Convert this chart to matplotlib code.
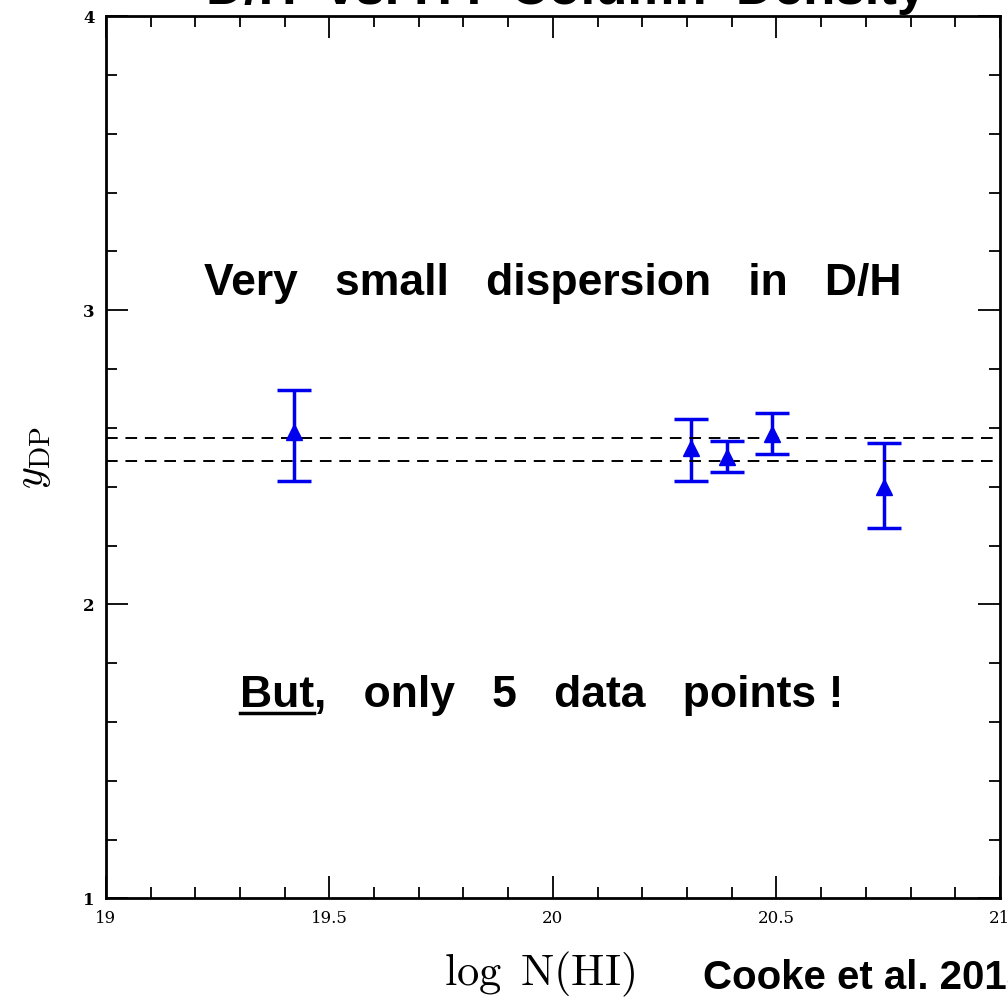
import numpy as np
import matplotlib
matplotlib.use("Agg")
import matplotlib.pyplot as plt
from matplotlib.ticker import MultipleLocator
from matplotlib.lines import Line2D

plt.rcParams['mathtext.fontset'] = 'cm'

# D/H measurements (log N(HI), y_DP, asymmetric errors)
log_nhi = [19.42, 20.31, 20.39, 20.49, 20.74]
y_dp = [2.585, 2.53, 2.50, 2.58, 2.40]
err_lo = [0.165, 0.11, 0.05, 0.07, 0.14]
err_hi = [0.145, 0.10, 0.055, 0.07, 0.15]

# weighted mean band
band = [2.487, 2.567]

xticks = [19, 19.5, 20, 20.5, 21]
xtick_labels = ['19', '19.5', '20', '20.5', '21']
yticks = [1, 2, 3, 4]
ytick_labels = ['1', '2', '3', '4']

fig = plt.figure(figsize=(10.08, 10.05), dpi=100)
ax = fig.add_axes([0.105, 0.106, 0.887, 0.878])

ax.errorbar(log_nhi, y_dp, yerr=[err_lo, err_hi], fmt='^', color='#0000ee',
            ms=12, elinewidth=2.5, capsize=12, capthick=2.5)

for yb in band:
    ax.axhline(yb, color='black', ls=(0, (6, 4)), lw=1.4)

ax.set_xlim(19, 21)
ax.set_ylim(1, 4)
ax.set_xticks(xticks)
ax.set_xticklabels(xtick_labels, family='DejaVu Serif')
ax.set_yticks(yticks)
ax.set_yticklabels(ytick_labels, family='DejaVu Serif', fontweight='bold')
ax.xaxis.set_minor_locator(MultipleLocator(0.1))
ax.yaxis.set_minor_locator(MultipleLocator(0.2))
ax.tick_params(which='both', direction='in', top=True, right=True, width=1.3)
ax.tick_params(which='major', length=16, labelsize=12, pad=8)
ax.tick_params(which='minor', length=8)
for s in ax.spines.values():
    s.set_linewidth(2)

ax.set_ylabel(r'$y_{\rm DP}$', fontsize=30, labelpad=22)

fig.text(0.535, 0.03, r'$\log\ \mathrm{N(HI)}$', fontsize=32, ha='center', va='center')
fig.text(0.697, 0.027, 'Cooke et al. 2013', fontsize=29, fontweight='bold',
         family='Liberation Sans', ha='left', va='center')

fig.text(0.562, 1.01, 'D/H  vs. H I  Column  Density', fontsize=38, fontweight='bold',
         family='Liberation Sans', ha='center', va='center')

ax.text(20.0, 3.09, 'Very   small   dispersion   in   D/H', fontsize=32, fontweight='bold',
        family='Liberation Sans', ha='center', va='center')

t_but = ax.text(19.3, 1.69, 'But', fontsize=32, fontweight='bold',
                family='Liberation Sans', ha='left', va='center')
fig.canvas.draw()
bb = t_but.get_window_extent().transformed(ax.transData.inverted())
ax.text(bb.x1, 1.69, ',   only   5   data   points !', fontsize=32, fontweight='bold',
        family='Liberation Sans', ha='left', va='center')
ax.add_line(Line2D([bb.x0, bb.x1], [bb.y0 + 0.01, bb.y0 + 0.01], color='black', lw=2.5))

fig.savefig('out.png', dpi=100)
